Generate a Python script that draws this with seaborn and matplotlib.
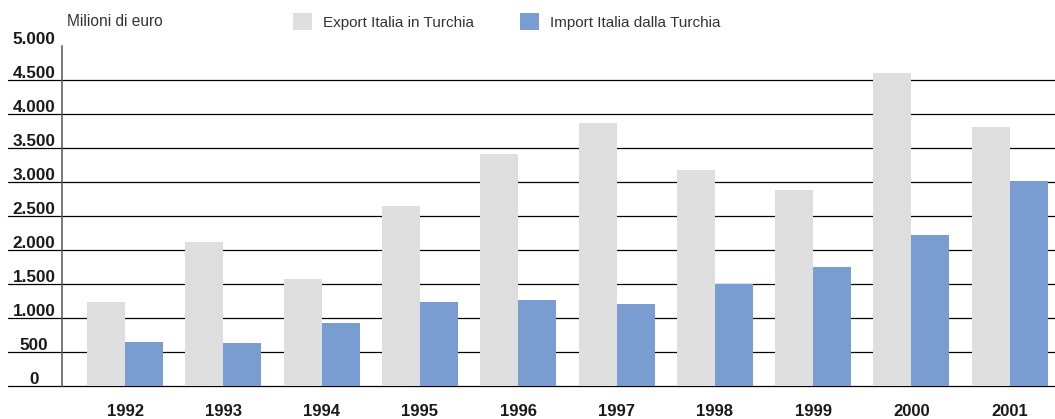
import seaborn as sns
import matplotlib.pyplot as plt
import matplotlib.transforms as mtransforms
from matplotlib.patches import Patch
import pandas as pd

# data (milioni di euro)
anni = ['1992', '1993', '1994', '1995', '1996', '1997', '1998', '1999', '2000', '2001']
export_italia = [1240, 2120, 1580, 2650, 3415, 3870, 3180, 2885, 4605, 3815]
import_italia = [650, 637, 930, 1240, 1270, 1210, 1505, 1755, 2225, 3020]
serie = ['Export Italia in Turchia', 'Import Italia dalla Turchia']
colori = ['#dedede', '#799dd0']
y_ticks = [0, 500, 1000, 1500, 2000, 2500, 3000, 3500, 4000, 4500, 5000]
y_labels = ['0', '500', '1.000', '1.500', '2.000', '2.500', '3.000', '3.500', '4.000', '4.500', '5.000']


def generate_plot(df):
    '''Bar chart export / import Italia - Turchia'''

    sns.set_theme(style='white')
    plt.rcParams['font.family'] = ['Liberation Sans', 'DejaVu Sans']

    fig = plt.figure(figsize=(10.55, 4.19), dpi=100)
    ax = fig.add_axes([62 / 1055, 0.078, 1 - 62 / 1055, 0.8115])

    # horizontal lines, running out to the left under the labels
    for y in y_ticks[:-1]:
        ax.axhline(y, xmin=-0.0544, xmax=1, color='black', lw=0.9,
                   clip_on=False, zorder=0)

    sns.barplot(data=df, x='anno', y='valore', hue='serie', palette=colori,
                width=0.773, gap=0, saturation=1, ax=ax, legend=False,
                zorder=2, linewidth=0)

    ax.set_xlim(-0.641, 9.46)
    ax.set_ylim(0, 5000)
    ax.set_xlabel('')
    ax.set_ylabel('')

    for s in ['top', 'right', 'bottom']:
        ax.spines[s].set_visible(False)
    ax.spines['left'].set_color('#555555')
    ax.spines['left'].set_linewidth(1.1)
    ax.spines['left'].set_zorder(3)

    ax.set_yticks([])
    ax.tick_params(axis='x', length=0, pad=13)
    for lab in ax.get_xticklabels():
        lab.set_fontsize(12)
        lab.set_fontweight('bold')
        lab.set_color('#1a1a1a')

    # y labels sit just above their lines, centred left of the axis
    trans = mtransforms.offset_copy(ax.get_yaxis_transform(), fig=fig, x=0, y=2, units='dots')
    for y, lab in zip(y_ticks, y_labels):
        ax.text(-28 / 993, y, lab, transform=trans, ha='center', va='baseline',
                fontsize=12.3, fontweight='bold', color='#1a1a1a')

    fig.text(67 / 1055, 1 - 22 / 419, 'Milioni di euro', ha='left', va='center',
             fontsize=11.2, color='#333333')

    handles = [Patch(facecolor=c, edgecolor='none') for c in colori]
    fig.legend(handles, serie, loc='center left', bbox_to_anchor=(293 / 1055, 1 - 21.5 / 419),
               ncol=2, frameon=False, fontsize=11, labelcolor='#333333',
               handlelength=1.25, handleheight=1.25, handletextpad=0.7,
               columnspacing=3.05, borderpad=0, borderaxespad=0)

    fig.savefig('out.png', dpi=100)


def main():
    df = pd.DataFrame({
        'anno': anni * 2,
        'valore': export_italia + import_italia,
        'serie': [serie[0]] * len(anni) + [serie[1]] * len(anni),
    })
    generate_plot(df)


if __name__ == '__main__':
    main()
